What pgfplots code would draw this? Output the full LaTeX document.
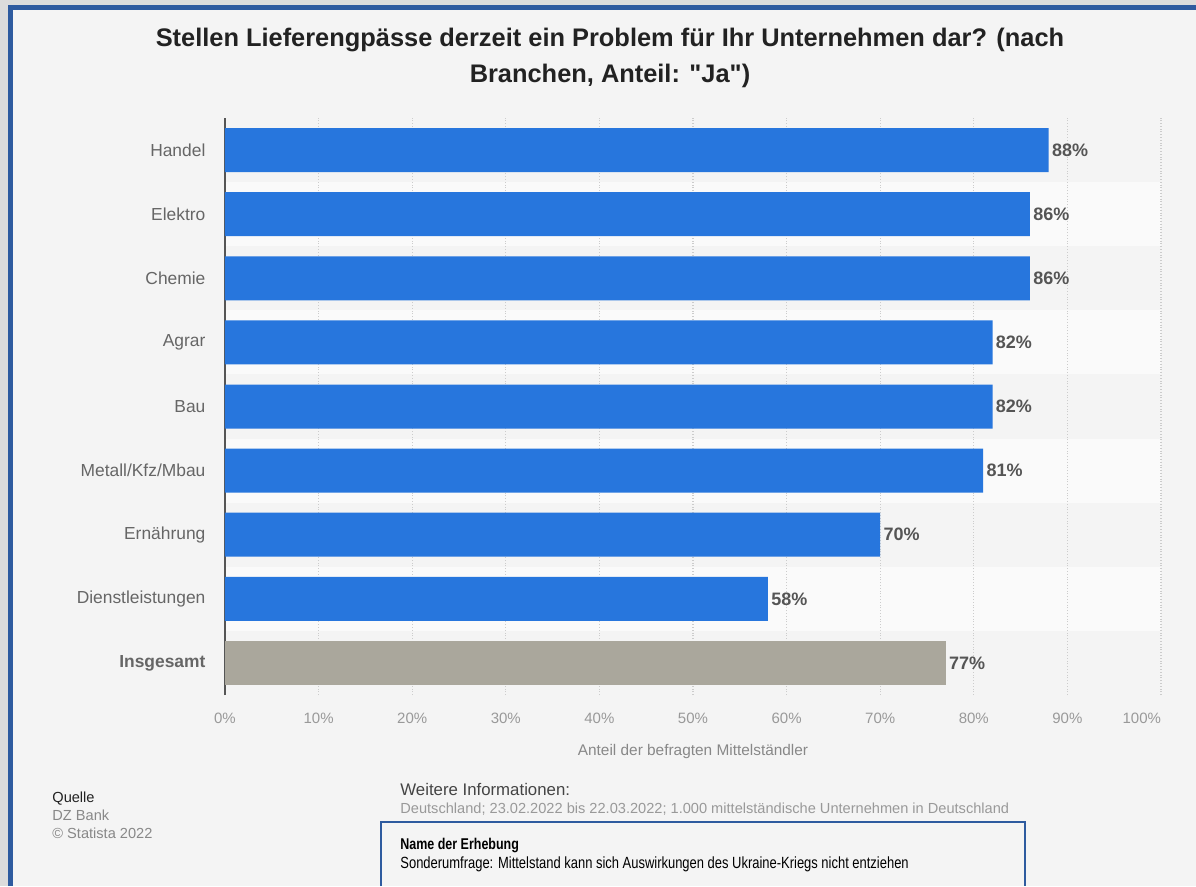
\documentclass[border=0pt]{standalone}
\usepackage{fontspec}
\setmainfont{Liberation Sans}
\newfontfamily\titlefont{Liberation Sans}
\newfontfamily\narrowfont[FakeStretch=0.8]{Liberation Sans}
\usepackage{pgfplots}
\pgfplotsset{compat=1.18}

\definecolor{outerc}{HTML}{DCDCDC}
\definecolor{framec}{HTML}{2E5B9F}
\definecolor{bgc}{HTML}{F4F4F4}
\definecolor{bandc}{HTML}{FAFAFA}
\definecolor{barblue}{HTML}{2776DD}
\definecolor{bargray}{HTML}{AAA79C}
\definecolor{gridc}{HTML}{CCCCCC}
\definecolor{valc}{HTML}{555555}
\definecolor{catc}{HTML}{666666}
\definecolor{tickc}{HTML}{999999}
\definecolor{labc}{HTML}{888888}
\definecolor{titlec}{HTML}{222222}
\definecolor{infoc}{HTML}{444444}

\begin{document}
\begin{tikzpicture}
\fill[outerc] (0,0) rectangle (598pt,-443pt);
\fill[framec] (4pt,-2.5pt) rectangle (598pt,-443pt);
\fill[bgc] (6.5pt,-5pt) rectangle (598pt,-443pt);

% alternating row bands behind the plot area
\fill[bandc] (112.5pt,-91.06pt) rectangle (580.5pt,-123.11pt);
\fill[bandc] (112.5pt,-155.17pt) rectangle (580.5pt,-187.22pt);
\fill[bandc] (112.5pt,-219.28pt) rectangle (580.5pt,-251.33pt);
\fill[bandc] (112.5pt,-283.39pt) rectangle (580.5pt,-315.44pt);

% title
\node[anchor=base, font=\titlefont\bfseries\fontsize{12.7}{15}\selectfont, text=titlec]
  at (305pt,-23pt) {Stellen Lieferengpässe derzeit ein Problem für Ihr Unternehmen dar? (nach};
\node[anchor=base, font=\titlefont\bfseries\fontsize{12.7}{15}\selectfont, text=titlec]
  at (305pt,-41pt) {Branchen, Anteil: "Ja")};

\begin{axis}[
    at={(112.5pt,-347.5pt)}, anchor=south west,
    scale only axis,
    width=468pt, height=288.5pt,
    xmin=0, xmax=100,
    ymin=-0.5, ymax=8.5,
    xbar, bar width=22pt,
    axis lines*=left,
    x axis line style={draw=none},
    y axis line style={draw=valc, line width=0.9pt},
    xtick={0,10,20,30,40,50,60,70,80,90,100},
    xticklabels={0\%,10\%,20\%,30\%,40\%,50\%,60\%,70\%,80\%,90\%,\makebox[0pt][r]{100\%}},
    xtick style={draw=none},
    ytick={0,1,2,3,4,5,6,7,8},
    yticklabels={\textbf{Insgesamt}, Dienstleistungen, Ernährung, Metall/Kfz/Mbau, Bau, Agrar, Chemie, Elektro, Handel},
    ytick style={draw=none},
    xticklabel style={font=\fontsize{7.5}{9}\selectfont, text=tickc, yshift=-5.5pt},
    yticklabel style={font=\fontsize{8.7}{10}\selectfont, text=catc, xshift=-2pt},
    xmajorgrids,
    grid style={densely dotted, gridc, line width=0.6pt},
    xlabel={Anteil der befragten Mittelständler},
    xlabel style={font=\fontsize{7.7}{9}\selectfont, text=labc, yshift=-3.5pt},
    nodes near coords={\pgfmathfloattoint{\pgfplotspointmeta}\pgfmathresult\%},
    nodes near coords style={font=\bfseries\fontsize{9}{10}\selectfont, text=valc, anchor=west, inner sep=1.5pt},
]
\addplot[fill=barblue, draw=none, bar shift=0pt, point meta=x] coordinates {
  (88,8) (86,7) (86,6) (82,5) (82,4) (81,3) (70,2) (58,1)
};
\addplot[fill=bargray, draw=none, bar shift=0pt, point meta=x] coordinates {
  (77,0)
};
\end{axis}

% footer
\node[anchor=base west, font=\fontsize{7.3}{9}\selectfont, text=titlec, inner sep=0pt] at (26pt,-401pt) {Quelle};
\node[anchor=base west, font=\fontsize{7.3}{9}\selectfont, text=labc, inner sep=0pt] at (26pt,-410pt) {DZ Bank};
\node[anchor=base west, font=\fontsize{7.3}{9}\selectfont, text=labc, inner sep=0pt] at (26pt,-419pt) {© Statista 2022};
\node[anchor=base west, font=\fontsize{8.4}{9}\selectfont, text=infoc, inner sep=0pt] at (200pt,-397.5pt) {Weitere Informationen:};
\node[anchor=base west, font=\fontsize{7.3}{8}\selectfont, text=tickc, inner sep=0pt] at (200pt,-406.5pt) {Deutschland; 23.02.2022 bis 22.03.2022; 1.000 mittelständische Unternehmen in Deutschland};
\draw[framec, line width=0.75pt] (190.5pt,-443pt) -- (190.5pt,-411pt) -- (512.5pt,-411pt) -- (512.5pt,-443pt);
\node[anchor=base west, font=\narrowfont\bfseries\fontsize{7.8}{9}\selectfont, text=black, inner sep=0pt] at (200pt,-424.5pt) {Name der Erhebung};
\node[anchor=base west, font=\narrowfont\fontsize{8.1}{9}\selectfont, text=black, inner sep=0pt] at (200pt,-434pt) {Sonderumfrage: Mittelstand kann sich Auswirkungen des Ukraine-Kriegs nicht entziehen};
\end{tikzpicture}
\end{document}
